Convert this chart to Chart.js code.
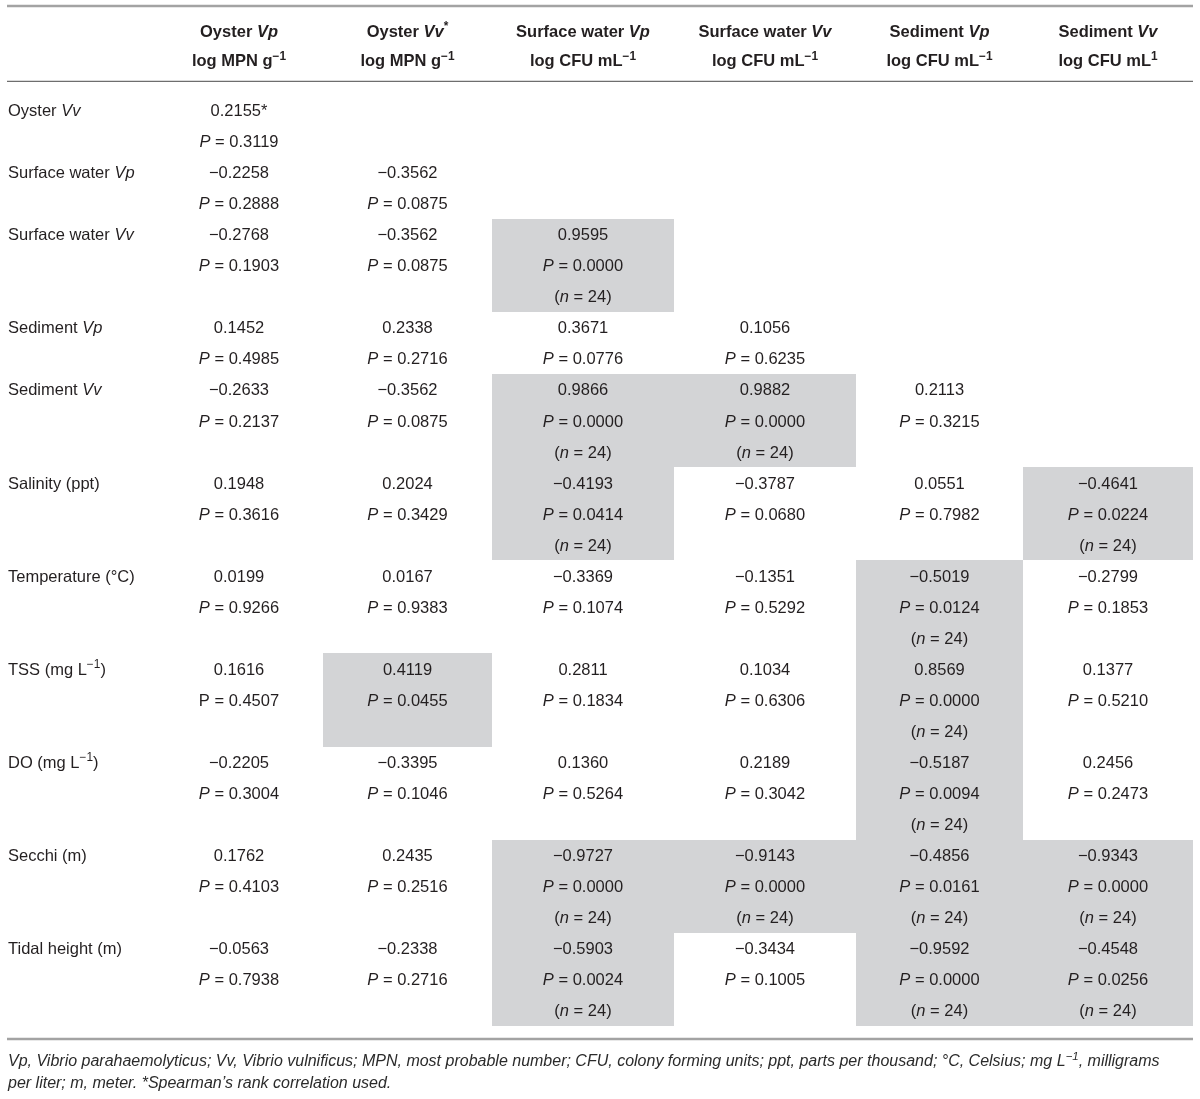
<!DOCTYPE html>
<html>
<head>
<meta charset="utf-8">
<script src="https://cdn.jsdelivr.net/npm/chart.js@4.4.1/dist/chart.umd.min.js"></script>
<style>
  html, body { margin: 0; padding: 0; background: #fff; }
  #wrap { width: 1200px; height: 1099px; position: relative; }
</style>
</head>
<body>
<div id="wrap"><canvas id="tableChart"></canvas></div>
<script>
// Column headers (markup: _italic_, ^superscript^)
const colTitles = ['Oyster _Vp_', 'Oyster _Vv_^*^', 'Surface water _Vp_', 'Surface water _Vv_', 'Sediment _Vp_', 'Sediment _Vv_'];
const colUnits = ['log MPN g^−1^', 'log MPN g^−1^', 'log CFU mL^−1^', 'log CFU mL^−1^', 'log CFU mL^−1^', 'log CFU mL^1^'];

const rowLabels = ['Oyster _Vv_', 'Surface water _Vp_', 'Surface water _Vv_', 'Sediment _Vp_', 'Sediment _Vv_',
    'Salinity (ppt)', 'Temperature (°C)', 'TSS (mg L^−1^)', 'DO (mg L^−1^)', 'Secchi (m)', 'Tidal height (m)'];

// correlation coefficients (lower triangle)
const rValues = [
    [0.2155],
    [-0.2258, -0.3562],
    [-0.2768, -0.3562, 0.9595],
    [0.1452, 0.2338, 0.3671, 0.1056],
    [-0.2633, -0.3562, 0.9866, 0.9882, 0.2113],
    [0.1948, 0.2024, -0.4193, -0.3787, 0.0551, -0.4641],
    [0.0199, 0.0167, -0.3369, -0.1351, -0.5019, -0.2799],
    [0.1616, 0.4119, 0.2811, 0.1034, 0.8569, 0.1377],
    [-0.2205, -0.3395, 0.1360, 0.2189, -0.5187, 0.2456],
    [0.1762, 0.2435, -0.9727, -0.9143, -0.4856, -0.9343],
    [-0.0563, -0.2338, -0.5903, -0.3434, -0.9592, -0.4548]
];

const pValues = [
    [0.3119],
    [0.2888, 0.0875],
    [0.1903, 0.0875, 0.0000],
    [0.4985, 0.2716, 0.0776, 0.6235],
    [0.2137, 0.0875, 0.0000, 0.0000, 0.3215],
    [0.3616, 0.3429, 0.0414, 0.0680, 0.7982, 0.0224],
    [0.9266, 0.9383, 0.1074, 0.5292, 0.0124, 0.1853],
    [0.4507, 0.0455, 0.1834, 0.6306, 0.0000, 0.5210],
    [0.3004, 0.1046, 0.5264, 0.3042, 0.0094, 0.2473],
    [0.4103, 0.2516, 0.0000, 0.0000, 0.0161, 0.0000],
    [0.7938, 0.2716, 0.0024, 0.1005, 0.0000, 0.0256]
];

// significant cells (shaded): [row, col, n]
const sigCells = [
    [2, 2, 24], [4, 2, 24], [4, 3, 24], [5, 2, 24], [5, 5, 24], [6, 4, 24],
    [7, 1, null], [7, 4, 24], [8, 4, 24],
    [9, 2, 24], [9, 3, 24], [9, 4, 24], [9, 5, 24],
    [10, 2, 24], [10, 4, 24], [10, 5, 24]
];
const starredCells = [[0, 0]];   // Spearman
const uprightPCells = [[7, 0]];

const footnote = [
    'Vp, Vibrio parahaemolyticus; Vv, Vibrio vulnificus; MPN, most probable number; CFU, colony forming units; ppt, parts per thousand; °C, Celsius; mg L^−1^, milligrams',
    'per liter; m, meter. *Spearman’s rank correlation used.'
];

// layout
const FONT = '"Liberation Sans", Arial, sans-serif';
const TEXT = '#231f20';
const SHADE = '#d3d4d6';
const colEdges = [7, 155, 323, 492, 674, 856, 1023, 1193];
const FIRST_LINE = 110, PITCH = 31.05, H = 1099;

const has = (list, r, c) => list.some(d => d[0] === r && d[1] === c);

// first text line of each row (rows with a shaded cell take three lines)
const rowStart = [];
let ln = 0;
rowLabels.forEach((_, r) => {
    rowStart.push(ln);
    ln += sigCells.some(d => d[0] === r) ? 3 : 2;
});

function parseRich(s) {
    const segs = [];
    let it = false, sup = false, buf = '';
    for (const ch of s) {
        if (ch === '_' || ch === '^') {
            if (buf) segs.push({ t: buf, it, sup });
            buf = '';
            if (ch === '_') it = !it; else sup = !sup;
        } else buf += ch;
    }
    if (buf) segs.push({ t: buf, it, sup });
    return segs;
}

function drawRich(ctx, s, x, y, o) {
    const segs = parseRich(s);
    const fontOf = sg => ((o.italic ? !sg.it : sg.it) ? 'italic ' : '') + (o.bold ? 'bold ' : '') +
        (sg.sup ? o.size * 0.72 : o.size) + 'px ' + FONT;
    let w = 0;
    segs.forEach(sg => { ctx.font = fontOf(sg); sg.w = ctx.measureText(sg.t).width; w += sg.w; });
    let cx = o.align === 'center' ? x - w / 2 : x;
    ctx.fillStyle = o.color || TEXT;
    segs.forEach(sg => {
        ctx.font = fontOf(sg);
        ctx.fillText(sg.t, cx, sg.sup ? y - o.size * 0.4 : y);
        cx += sg.w;
    });
}

const fmt = v => (v < 0 ? '−' : '') + Math.abs(v).toFixed(4);

const tablePlugin = {
    id: 'tablePlugin',
    beforeDatasetsDraw(chart) {
        const ctx = chart.ctx;
        const xs = chart.scales.x, ys = chart.scales.y;
        const yc = line => ys.getPixelForValue(line);
        const half = (yc(1) - yc(0)) / 2;
        const base = line => yc(line) + 6;
        ctx.save();
        ctx.textBaseline = 'alphabetic';

        // shaded cells
        ctx.fillStyle = SHADE;
        sigCells.forEach(([r, c]) => {
            const x0 = Math.round(xs.getPixelForValue(colEdges[c + 1]));
            const x1 = Math.round(xs.getPixelForValue(colEdges[c + 2]));
            const y0 = Math.round(yc(rowStart[r]) - half);
            const y1 = Math.round(yc(rowStart[r] + 2) + half);
            ctx.fillRect(x0, y0, x1 - x0, y1 - y0);
        });

        // rules
        const rule = (line, w, color) => {
            ctx.strokeStyle = color;
            ctx.lineWidth = w;
            ctx.beginPath();
            ctx.moveTo(xs.getPixelForValue(colEdges[0]), yc(line));
            ctx.lineTo(xs.getPixelForValue(colEdges[colEdges.length - 1]), yc(line));
            ctx.stroke();
        };
        rule(-3.35, 2.5, '#a3a3a3');
        rule(-0.92, 1.3, '#6e6e6e');
        rule(29.92, 2.5, '#a3a3a3');

        // header
        colTitles.forEach((t, c) => {
            const cx = xs.getPixelForValue((colEdges[c + 1] + colEdges[c + 2]) / 2);
            drawRich(ctx, t, cx, base(-2.56), { size: 16.5, bold: true, align: 'center' });
            drawRich(ctx, colUnits[c], cx, base(-1.595), { size: 16.5, bold: true, align: 'center' });
        });

        // body
        rowLabels.forEach((lab, r) => {
            const l0 = rowStart[r];
            drawRich(ctx, lab, xs.getPixelForValue(colEdges[0] + 1), base(l0), { size: 16.5, align: 'left' });
            rValues[r].forEach((v, c) => {
                const cx = xs.getPixelForValue((colEdges[c + 1] + colEdges[c + 2]) / 2);
                drawRich(ctx, fmt(v) + (has(starredCells, r, c) ? '*' : ''), cx, base(l0), { size: 16.5, align: 'center' });
                const pLab = has(uprightPCells, r, c) ? 'P' : '_P_';
                drawRich(ctx, pLab + ' = ' + pValues[r][c].toFixed(4), cx, base(l0 + 1), { size: 16.5, align: 'center' });
                const sig = sigCells.find(d => d[0] === r && d[1] === c);
                if (sig && sig[2] !== null) {
                    drawRich(ctx, '(_n_ = ' + sig[2] + ')', cx, base(l0 + 2), { size: 16.5, align: 'center' });
                }
            });
        });

        // footnote
        footnote.forEach((t, i) => {
            drawRich(ctx, t, xs.getPixelForValue(colEdges[0] + 1), base(30.6 + i * 0.71),
                { size: 16, italic: true, align: 'left', color: '#2b2b2b' });
        });
        ctx.restore();
    }
};

new Chart(document.getElementById('tableChart'), {
    type: 'scatter',
    data: { datasets: [] },
    options: {
        responsive: true,
        maintainAspectRatio: false,
        animation: false,
        layout: { padding: 0 },
        plugins: { legend: { display: false }, tooltip: { enabled: false } },
        scales: {
            x: { type: 'linear', display: false, min: 0, max: 1200 },
            // y is measured in text lines of the table body
            y: { type: 'linear', display: false, reverse: true,
                 min: -FIRST_LINE / PITCH, max: (H - FIRST_LINE) / PITCH }
        }
    },
    plugins: [tablePlugin]
});
</script>
</body>
</html>
